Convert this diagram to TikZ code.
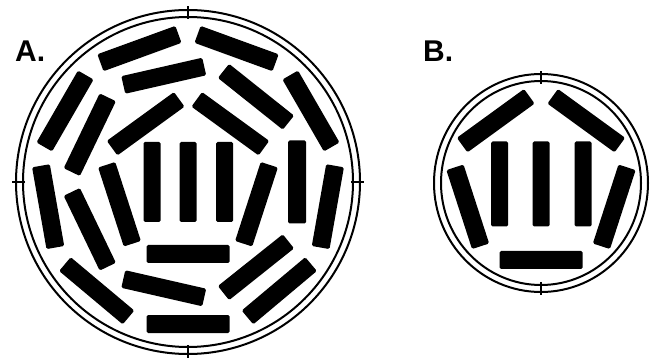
\documentclass[tikz,border=0pt]{standalone}
\usepackage{fontspec}
\setmainfont{Liberation Sans}
\begin{document}
\begin{tikzpicture}[x=1pt,y=1pt,
  bar/.style={rectangle, fill=black, draw=none, inner sep=0pt,
    minimum width=83pt, minimum height=18pt, rounded corners=1.5pt},
  vbar/.style={rectangle, fill=black, draw=none, inner sep=0pt,
    minimum width=17pt, minimum height=#1, rounded corners=1.5pt},
  ring/.style={line width=2pt},
  tick/.style={line width=1.4pt},
  lbl/.style={font=\bfseries\fontsize{30}{32}\selectfont, inner sep=0pt, anchor=base west}]
\useasboundingbox (0,0) rectangle (659,-358);
% ---------- A ----------
\node[lbl] (la) at (15,-62) {A.};
\begin{scope}[shift={(188,-182)}]
  \draw[ring] (0,0) circle (172);
  \draw[ring] (0,0) circle (165);
  \foreach \t in {0,90,180,270}
    \draw[tick] (\t:163) -- (\t:176);
  % outer ring of nine
  \foreach \i [evaluate=\i as \a using 30+40*\i] in {0,...,8}
    \node[bar, rotate=\a-90] (ao\i) at (\a:142) {};
  % middle ring of seven
  \foreach \i [evaluate=\i as \a using 360/7*\i] in {0,...,6}
    \node[bar, rotate=\a-90] (am\i) at (\a:109) {};
  % inner pentagon
  \foreach \i [evaluate=\i as \a using 270+72*\i] in {0,...,4}
    \node[bar, rotate=\a-90] (ap\i) at (\a:72) {};
  % three vertical bars
  \foreach \i/\dx in {1/-36,2/0,3/36.5}
    \node[vbar=80pt] (av\i) at (\dx,0) {};
\end{scope}
% ---------- B ----------
\node[lbl] (lb) at (423,-62) {B.};
\begin{scope}[shift={(541,-183)}]
  \draw[ring] (0,0) ellipse (107 and 109);
  \draw[ring] (0,0) ellipse (100 and 102);
  \foreach \t in {90,270}
    \draw[tick] (\t:99) -- (\t:112);
  \foreach \i [evaluate=\i as \a using 270+72*\i] in {0,...,4}
    \node[bar, rotate=\a-90] (bp\i) at (\a:77) {};
  \foreach \i/\dx in {1/-41.5,2/0,3/42}
    \node[vbar=85pt] (bv\i) at (\dx,-1) {};
\end{scope}
\end{tikzpicture}
\end{document}
